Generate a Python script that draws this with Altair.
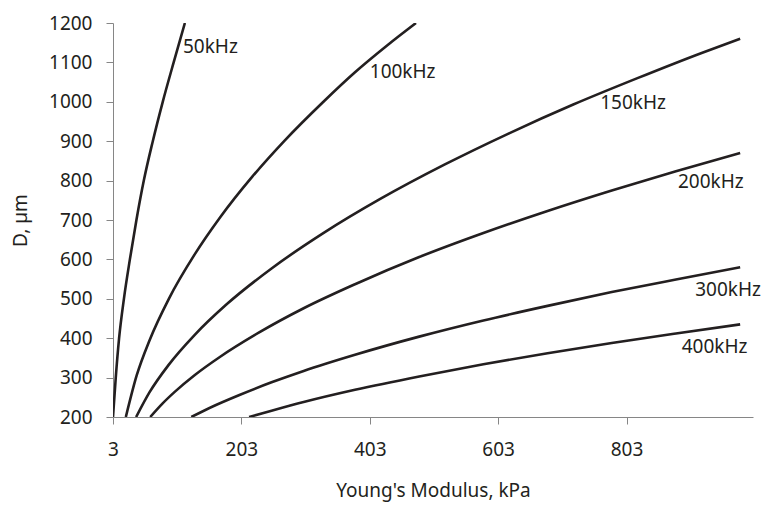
import altair as alt
import pandas as pd

# Young's modulus (kPa) and diameter D (µm), per frequency
E50 = [3, 7.3, 12.5, 20, 29.3, 39.5, 51, 65, 80.5, 97.5, 115]
D50 = [200, 300, 400, 500, 600, 700, 800, 900, 1000, 1100, 1200]

E100 = [23, 40, 60, 90, 130, 170, 220, 270, 330, 380, 430, 475]
D100 = [200, 306, 395, 500, 612, 707, 810, 901, 999, 1075, 1143, 1200]

E150 = [39, 60, 90, 130, 180, 250, 330, 420, 520, 620, 720, 820, 920, 980]
D150 = [200, 263, 333, 408, 486, 577, 666, 754, 841, 920, 993, 1060, 1124, 1160]

E200 = [61, 80, 100, 130, 170, 230, 300, 380, 480, 580, 680, 780, 880, 980]
D200 = [200, 234, 265, 306, 353, 414, 476, 537, 606, 667, 723, 775, 824, 870]

E300 = [125, 160, 200, 250, 300, 380, 480, 580, 680, 780, 880, 980]
D300 = [200, 228, 256, 288, 317, 358, 404, 445, 482, 517, 549, 580]

E400 = [215, 250, 300, 380, 480, 580, 680, 780, 880, 980]
D400 = [200, 216, 238, 269, 303, 334, 362, 388, 412, 435]

series_names = ["50kHz", "100kHz", "150kHz", "200kHz", "300kHz", "400kHz"]
series_E = [E50, E100, E150, E200, E300, E400]
series_D = [D50, D100, D150, D200, D300, D400]

# label anchor positions (data coordinates)
label_E = [112, 403, 762, 883, 910, 889]
label_D = [1124, 1060, 982, 781, 507, 362]

x_ticks = [3, 203, 403, 603, 803]
y_ticks = [200, 300, 400, 500, 600, 700, 800, 900, 1000, 1100, 1200]

rows = []
for name, es, ds in zip(series_names, series_E, series_D):
    for e, d in zip(es, ds):
        rows.append({"series": name, "E": e, "D": d})
df = pd.DataFrame(rows)
lab_df = pd.DataFrame({"label": series_names, "E": label_E, "D": label_D})

FONT = "Noto Sans"
INK = "#231f20"
AX = "#868686"

x_scale = alt.Scale(domain=[3, 1000], nice=False, zero=False)
y_scale = alt.Scale(domain=[200, 1200], nice=False, zero=False)

x_axis = alt.Axis(values=x_ticks, format="d", title="Young's Modulus, kPa",
                  grid=False, tickSize=7, labelPadding=16, titlePadding=22,
                  labelFlush=False, labelOverlap=False)
y_axis = alt.Axis(values=y_ticks, format="d", title="D, µm",
                  grid=False, tickSize=7, labelPadding=14, titlePadding=18,
                  labelOverlap=False)

lines = alt.Chart(df).mark_line(
    color=INK, strokeWidth=2.6, interpolate="monotone", clip=True
).encode(
    x=alt.X("E:Q", scale=x_scale, axis=x_axis),
    y=alt.Y("D:Q", scale=y_scale, axis=y_axis),
    detail="series:N",
)

labels = alt.Chart(lab_df).mark_text(
    align="left", baseline="alphabetic", font=FONT, fontSize=19, color=INK
).encode(
    x=alt.X("E:Q", scale=x_scale, axis=x_axis),
    y=alt.Y("D:Q", scale=y_scale, axis=y_axis),
    text="label:N",
)

chart = alt.layer(lines, labels).properties(
    width=640, height=394,
    padding={"left": 113, "top": 23, "right": 9, "bottom": 91},
    autosize=alt.AutoSizeParams(type="none"),
    background="white",
).configure_view(stroke=None).configure_axis(
    domainColor=AX, tickColor=AX, domainWidth=1, tickWidth=1,
    labelFont=FONT, labelFontSize=19, labelColor=INK,
    titleFont=FONT, titleFontSize=19, titleFontWeight="normal", titleColor=INK,
)

chart.save("out.html", embed_options={"renderer": "svg", "actions": False})
